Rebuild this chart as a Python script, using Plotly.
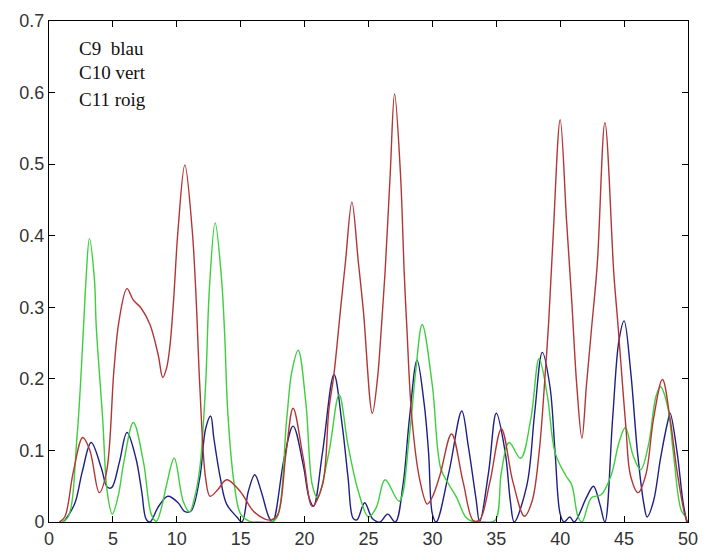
import plotly.graph_objects as go

# ---- data ----
x_ticks = [0, 5, 10, 15, 20, 25, 30, 35, 40, 45, 50]
y_ticks = [0, 0.1, 0.2, 0.3, 0.4, 0.5, 0.6, 0.7]
labels = ["C9  blau", "C10 vert", "C11 roig"]

c11_x = [0.8, 1.23, 1.9, 2.64, 3.2, 3.93, 4.5, 5.08, 5.47, 6.1, 6.6, 7.2, 7.9, 8.55, 8.9,
         9.2, 9.45, 9.75, 10.1, 10.63, 11.2, 11.5, 11.8, 12.25, 12.6, 13.2, 13.9, 14.95, 16.0, 16.9,
         17.4, 17.9, 18.55, 19.1, 19.9, 20.6, 21.4, 21.9, 22.3, 22.8, 23.2, 23.7, 24.2, 24.6, 25.3,
         25.7, 26.0, 26.3, 26.7, 27.04, 27.5, 27.8, 28.0, 28.4, 29.0, 29.6, 30.0, 30.6, 31.5, 32.4,
         33.2, 33.7, 34.5, 35.4, 36.3, 37.2, 37.8, 38.35, 38.85, 39.1, 39.45, 40.0, 40.5, 40.9, 41.3,
         41.7, 42.05, 42.45, 42.9, 43.5, 44.2, 44.5, 44.8, 45.15, 45.5, 46.1, 46.7, 47.3, 48.0, 48.6,
         49.15, 49.8, 50.0]
c11_y = [0.0, 0.007, 0.07, 0.118, 0.1, 0.041, 0.07, 0.212, 0.28, 0.326, 0.31, 0.299, 0.276, 0.233, 0.202,
         0.215, 0.244, 0.31, 0.409, 0.499, 0.409, 0.317, 0.19, 0.062, 0.036, 0.045, 0.059, 0.043, 0.015, 0.004,
         0.003, 0.01, 0.097, 0.159, 0.089, 0.022, 0.052, 0.157, 0.207, 0.295, 0.364, 0.447, 0.364, 0.295, 0.152,
         0.2, 0.27, 0.35, 0.487, 0.598, 0.487, 0.346, 0.272, 0.144, 0.06, 0.025, 0.035, 0.066, 0.123, 0.056,
         0.002, 0.003, 0.056, 0.13, 0.056, 0.008, 0.029, 0.097, 0.213, 0.28, 0.4, 0.562, 0.42, 0.31, 0.19,
         0.117, 0.19, 0.27, 0.36, 0.558, 0.346, 0.28, 0.21, 0.13, 0.065, 0.041, 0.066, 0.144, 0.199, 0.144,
         0.07, 0.007, 0.0]

c10_x = [1.0, 1.5, 2.2, 2.7, 2.9, 3.16, 3.55, 3.7, 4.2, 4.55, 4.95, 5.4, 5.85, 6.6, 7.4,
         8.0, 8.4, 8.8, 9.2, 9.8, 10.5, 11.0, 11.4, 11.8, 12.25, 12.55, 13.0, 13.5, 13.75, 14.0,
         14.5, 15.0, 15.7, 16.5, 17.3, 17.8, 18.6, 19.0, 19.5, 20.1, 20.6, 21.0, 21.9, 22.7, 23.4,
         24.2, 25.0, 25.6, 26.3, 27.4, 28.2, 28.7, 29.2, 30.0, 30.65, 31.3, 31.9, 32.6, 33.1, 34.0,
         34.9, 35.4, 36.0, 36.9, 37.7, 38.35, 39.0, 39.6, 40.4, 40.9, 41.4, 41.7, 42.45, 43.2, 44.0,
         44.6, 45.1, 45.7, 46.3, 46.9, 47.5, 47.85, 48.4, 48.85, 49.5, 49.9]
c10_y = [0.0, 0.007, 0.121, 0.272, 0.34, 0.396, 0.34, 0.272, 0.144, 0.043, 0.011, 0.035, 0.083, 0.139, 0.083,
         0.011, 0.001, 0.02, 0.052, 0.089, 0.029, 0.014, 0.035, 0.075, 0.19, 0.326, 0.418, 0.34, 0.26, 0.15,
         0.052, 0.011, 0.001, 0.0, 0.0, 0.005, 0.144, 0.21, 0.24, 0.166, 0.052, 0.034, 0.097, 0.178, 0.107,
         0.043, 0.007, 0.02, 0.059, 0.029, 0.121, 0.212, 0.276, 0.19, 0.075, 0.052, 0.034, 0.007, 0.001, 0.0,
         0.002, 0.07, 0.111, 0.089, 0.144, 0.228, 0.176, 0.097, 0.066, 0.052, 0.007, 0.0, 0.034, 0.038, 0.066,
         0.111, 0.132, 0.093, 0.073, 0.107, 0.176, 0.189, 0.162, 0.097, 0.015, 0.007]

c9_x = [1.2, 2.0, 2.6, 3.3, 4.1, 4.55, 4.9, 5.5, 6.1, 6.8, 7.25, 7.6, 7.9, 8.55, 9.3,
        10.1, 10.6, 11.1, 11.8, 12.25, 12.65, 12.9, 13.4, 13.9, 14.7, 15.1, 15.6, 16.1, 16.6, 17.2,
        17.5, 18.4, 19.1, 19.9, 20.35, 20.7, 21.4, 22.3, 22.95, 23.4, 23.8, 24.1, 24.7, 25.3, 25.9,
        26.5, 27.1, 27.7, 28.2, 28.8, 29.35, 29.7, 30.0, 30.3, 31.3, 32.3, 32.8, 33.4, 33.7, 34.4,
        35.0, 35.7, 36.1, 36.4, 37.4, 38.0, 38.6, 39.2, 39.6, 40.0, 40.3, 40.75, 41.1, 42.05, 42.6,
        43.1, 43.5, 44.1, 44.6, 45.0, 45.5, 46.05, 46.55, 46.8, 47.3, 47.85, 48.4, 48.6, 49.15, 49.6,
        49.9]
c9_y = [0.001, 0.025, 0.07, 0.111, 0.075, 0.049, 0.048, 0.083, 0.125, 0.089, 0.043, 0.004, 0.0, 0.021, 0.036,
        0.027, 0.015, 0.015, 0.062, 0.13, 0.148, 0.117, 0.062, 0.025, 0.007, 0.0, 0.043, 0.066, 0.043, 0.007,
        0.0, 0.089, 0.134, 0.079, 0.034, 0.022, 0.097, 0.206, 0.134, 0.062, 0.005, 0.003, 0.027, 0.005, 0.0,
        0.011, 0.0, 0.052, 0.144, 0.226, 0.166, 0.097, 0.011, 0.0, 0.07, 0.155, 0.107, 0.034, 0.0, 0.07,
        0.152, 0.097, 0.029, 0.0, 0.052, 0.152, 0.237, 0.189, 0.097, 0.011, 0.0, 0.007, 0.0, 0.034, 0.05,
        0.025, 0.0, 0.144, 0.254, 0.281, 0.213, 0.097, 0.025, 0.007, 0.029, 0.089, 0.139, 0.152, 0.097, 0.029,
        0.0]

assert len(c11_x) == len(c11_y), (len(c11_x), len(c11_y))
assert len(c10_x) == len(c10_y), (len(c10_x), len(c10_y))
assert len(c9_x) == len(c9_y), (len(c9_x), len(c9_y))

fig = go.Figure()
line_common = dict(shape="spline", smoothing=1.0, width=1.4)
fig.add_trace(go.Scatter(x=c9_x, y=c9_y, mode="lines", name="C9",
                         line=dict(color="#1f1f85", **line_common)))
fig.add_trace(go.Scatter(x=c10_x, y=c10_y, mode="lines", name="C10",
                         line=dict(color="#3dcf3d", **line_common)))
fig.add_trace(go.Scatter(x=c11_x, y=c11_y, mode="lines", name="C11",
                         line=dict(color="#b33636", **line_common)))

ann_y = [0.661, 0.628, 0.591]
for txt, yy in zip(labels, ann_y):
    fig.add_annotation(x=2.2, y=yy, xref="x", yref="y", text=txt, showarrow=False,
                       xanchor="left", yanchor="middle",
                       font=dict(family="Liberation Serif, Times New Roman, serif", size=19, color="#111"))

axis_common = dict(showline=True, linecolor="black", linewidth=1, mirror="ticks",
                   ticks="inside", ticklen=6, tickcolor="black", tickwidth=1,
                   showgrid=False, zeroline=False,
                   tickfont=dict(family="Liberation Sans, Arial, sans-serif", size=18, color="#333"))
fig.update_xaxes(range=[0, 50], tickvals=x_ticks, ticktext=[str(v) for v in x_ticks], **axis_common)
fig.update_yaxes(range=[0, 0.7], tickvals=y_ticks, ticktext=["0" if v == 0 else f"{v:.1f}" for v in y_ticks],
                 **axis_common)

fig.update_layout(autosize=True, margin=dict(l=49, r=11, t=18, b=32),
                  paper_bgcolor="white", plot_bgcolor="white", showlegend=False)

# The graph div fills the whole 709x560 viewport, pinned to its top-left corner.
fig.write_html("out.html", config={"displayModeBar": False},
               default_width="100vw;position:fixed;left:0;top:0",
               default_height="100vh")
